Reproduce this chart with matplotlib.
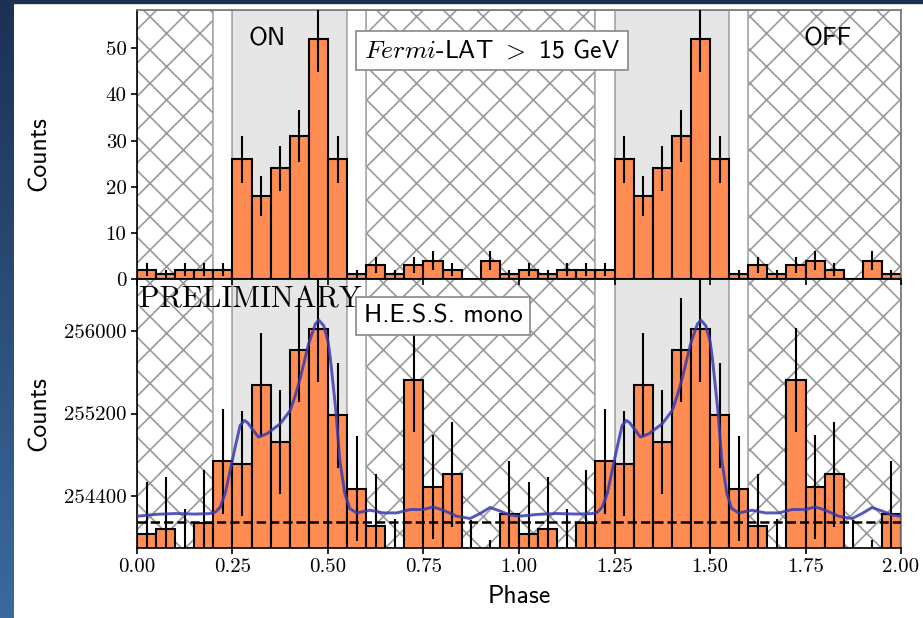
import numpy as np
import matplotlib
matplotlib.use("Agg")
import matplotlib.pyplot as plt
from matplotlib.colors import LinearSegmentedColormap
from matplotlib.patches import Rectangle

plt.rcParams['mathtext.fontset'] = 'cm'
plt.rcParams['axes.unicode_minus'] = False
plt.rcParams['hatch.linewidth'] = 1.2
plt.rcParams['axes.linewidth'] = 1.2

# Phaseogram, 20 bins of 0.05 in phase, shown over two periods
bin_width = 0.05
fermi_counts = [2, 1, 2, 2, 2, 26, 18, 24, 31, 52,
                26, 1, 3, 1, 3, 4, 2, 0, 4, 1]
hess_counts = [254031, 254082, 253776, 254146, 254737, 254715, 255476, 254923, 255814, 256013,
               255181, 254474, 254111, 253680, 255525, 254490, 254612, 253664, 253470, 254233]

# Smoothed H.E.S.S. light curve over one period
curve_phase = [0.000, 0.050, 0.100, 0.150, 0.190, 0.205, 0.218, 0.231, 0.244, 0.257,
               0.270, 0.281, 0.290, 0.300, 0.318, 0.340, 0.375, 0.401, 0.415, 0.428,
               0.449, 0.467, 0.476, 0.489, 0.500, 0.506, 0.520, 0.531, 0.544, 0.557,
               0.575, 0.610, 0.645, 0.680, 0.715, 0.750, 0.775, 0.802, 0.837, 0.872,
               0.898, 0.924, 0.950, 0.975]
curve_counts = [254207, 254225, 254233, 254228, 254232, 254245, 254297, 254426, 254651, 254875,
                255084, 255133, 255110, 255060, 254972, 255004, 255101, 255229, 255380, 255550,
                255872, 256065, 256103, 256048, 255900, 255740, 255250, 254747, 254426, 254281,
                254239, 254265, 254239, 254239, 254272, 254272, 254297, 254265, 254207, 254185,
                254233, 254291, 254258, 254220]
background_level = 254155

on_windows = [(0.25, 0.55), (1.25, 1.55)]
off_windows = [(0.0, 0.2), (0.6, 1.2), (1.6, 2.0)]

centers = np.arange(40) * bin_width + bin_width / 2
fermi = np.array(fermi_counts * 2, dtype=float)
hess = np.array(hess_counts * 2, dtype=float)
cphase = np.concatenate([curve_phase, np.array(curve_phase) + 1, [2.0]])
ccounts = np.concatenate([curve_counts, curve_counts, [curve_counts[0]]])

orange = '#ff8c52'

fig = plt.figure(figsize=(9.23, 6.18), dpi=100)
fig.patch.set_facecolor('white')

# slide background strips
strip = fig.add_axes([0, 0, 14 / 923, 1], zorder=-5)
strip.imshow(np.linspace(0, 1, 256)[:, None], aspect='auto',
             cmap=LinearSegmentedColormap.from_list('slide', ['#1b3153', '#3b6a9f']))
strip.axis('off')
fig.patches.append(Rectangle((0, 1 - 2.5 / 618), 1, 2.5 / 618,
                             transform=fig.transFigure, color='#1b3153', zorder=-5))

ax1 = fig.add_axes([0.1484, 0.5485, 0.8278, 0.4353])
ax2 = fig.add_axes([0.1484, 0.1133, 0.8278, 0.4352], sharex=ax1)
ax1.set_zorder(1)

for ax in (ax1, ax2):
    for a, b in off_windows:
        ax.axvspan(a, b, facecolor='none', edgecolor='#999999', hatch='x', lw=1.2, zorder=0)
    for a, b in on_windows:
        ax.axvspan(a, b, facecolor='#e6e6e6', edgecolor='#aaaaaa', lw=1.2, zorder=0)
        ax.axvspan(a - 0.05, a, facecolor='white', edgecolor='#aaaaaa', lw=1.2, zorder=0)
        ax.axvspan(b, b + 0.05, facecolor='white', edgecolor='#aaaaaa', lw=1.2, zorder=0)
    for side in ('top', 'right'):
        ax.spines[side].set_color('#777777')

ax1.bar(centers, fermi, width=bin_width, color=orange, edgecolor='black', lw=1.5, zorder=2)
ax1.errorbar(centers, fermi, yerr=np.sqrt(fermi), fmt='none', ecolor='black', elinewidth=1.5, zorder=3)

ax2.bar(centers, hess, width=bin_width, color=orange, edgecolor='black', lw=1.5, zorder=2)
ax2.errorbar(centers, hess, yerr=np.sqrt(hess), fmt='none', ecolor='black', elinewidth=1.5, zorder=3)
ax2.axhline(background_level, color='black', ls='--', lw=1.8, zorder=4)
ax2.plot(cphase, ccounts, color='#3a3ab0', lw=2.1, alpha=0.85, zorder=5)

ax1.set_xlim(0, 2)
ax1.set_ylim(0, 58.3)
ax2.set_ylim(253900, 256500)

ax1.set_yticks([0, 10, 20, 30, 40, 50])
ax2.set_yticks([254400, 255200, 256000])
ax2.set_xticks(np.arange(0, 2.01, 0.25))
ax2.set_xticklabels([f'{v:.2f}' for v in np.arange(0, 2.01, 0.25)])
ax1.tick_params(labelbottom=False)

for ax in (ax1, ax2):
    ax.tick_params(direction='out', length=4, width=1.2, labelsize=15)
    for lab in ax.get_xticklabels() + ax.get_yticklabels():
        lab.set_fontfamily('cmr10')

sans = dict(fontfamily='cmss10', fontsize=18.5)
ax1.set_ylabel('Counts', **sans)
ax2.set_ylabel('Counts', **sans)
ax2.set_xlabel('Phase', **sans)
ax1.yaxis.set_label_coords(-0.1126, 0.465)
ax2.yaxis.set_label_coords(-0.1126, 0.5)
ax2.xaxis.set_label_coords(0.5, -0.1375)

box = dict(boxstyle='square,pad=0.3', fc='white', ec='#888888', lw=1.2)
ax1.text(0.34, 52.1, 'ON', ha='center', va='center', zorder=6, **sans)
ax1.text(1.809, 52.1, 'OFF', ha='center', va='center', zorder=6, **sans)
ax1.text(0.594, 49.5, r'$Fermi$-LAT $>$ 15 GeV', ha='left', va='center',
         bbox=box, zorder=6, **sans)
ax2.text(0.594, 256145, 'H.E.S.S. mono', ha='left', va='center', bbox=box, zorder=6, **sans)
ax2.text(0.003, 0.922, 'PRELIMINARY', transform=ax2.transAxes, ha='left', va='center',
         fontfamily='cmr10', fontsize=21.8, zorder=6)

fig.savefig('out.png', dpi=100)
